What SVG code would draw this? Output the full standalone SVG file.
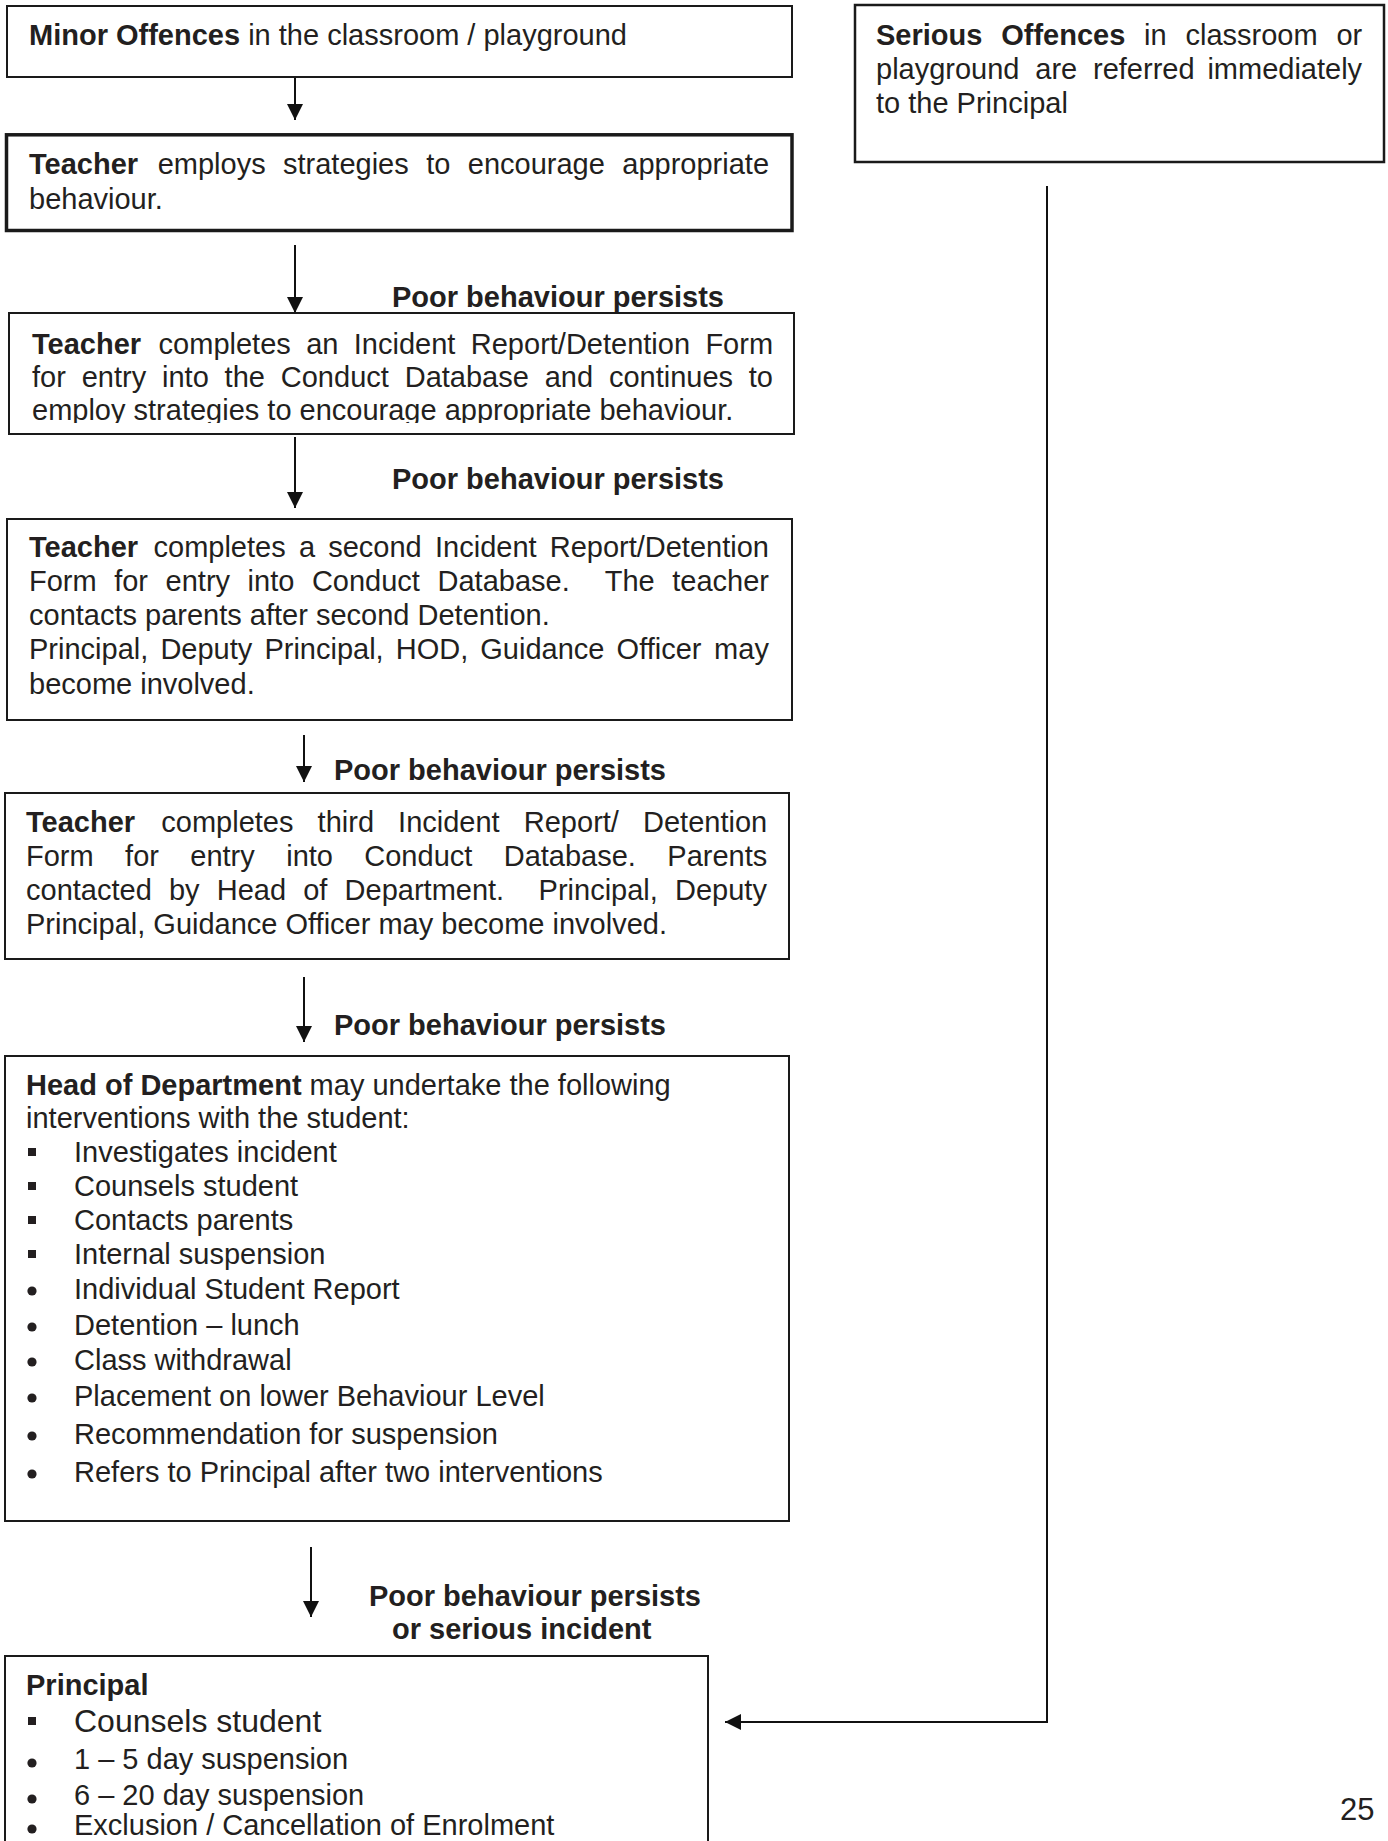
<svg xmlns="http://www.w3.org/2000/svg" width="1388" height="1841" viewBox="0 0 1388 1841">
<style>
text{font-family:"Liberation Sans",Arial,sans-serif;font-size:29px;fill:#231f20}
.b{font-weight:bold}
.box{fill:#fff;stroke:#1a1a1a;stroke-width:2}
.thick{stroke-width:3.5}
.conn{fill:none;stroke:#111;stroke-width:2}
.sq{fill:#231f20}
</style>
<defs>
<marker id="arr" markerUnits="userSpaceOnUse" markerWidth="16" markerHeight="16" refX="16" refY="8" orient="auto">
<path d="M0,0 L16,8 L0,16 z" fill="#111"/>
</marker>
<clipPath id="clip3"><rect x="9" y="313" width="785" height="110"/></clipPath>
</defs>
<rect width="1388" height="1841" fill="#fff"/>

<g id="connectors">
<line class="conn" x1="295" y1="77" x2="295" y2="120" marker-end="url(#arr)"/>
<line class="conn" x1="295" y1="245" x2="295" y2="313" marker-end="url(#arr)"/>
<line class="conn" x1="295" y1="437" x2="295" y2="508" marker-end="url(#arr)"/>
<line class="conn" x1="304" y1="735" x2="304" y2="782" marker-end="url(#arr)"/>
<line class="conn" x1="304" y1="977" x2="304" y2="1042" marker-end="url(#arr)"/>
<line class="conn" x1="311" y1="1547" x2="311" y2="1617" marker-end="url(#arr)"/>
<path class="conn" d="M1047,186 V1722 H725" marker-end="url(#arr)"/>
<text class="b" x="392" y="307">Poor behaviour persists</text>
<text class="b" x="392" y="489">Poor behaviour persists</text>
<text class="b" x="334" y="780">Poor behaviour persists</text>
<text class="b" x="334" y="1035">Poor behaviour persists</text>
<text class="b" x="369" y="1606">Poor behaviour persists</text>
<text class="b" x="392" y="1639">or serious incident</text>
</g>

<g id="minor">
<rect class="box" x="7" y="6" width="785" height="71"/>
<text x="29" y="45"><tspan class="b">Minor Offences</tspan> in the classroom / playground</text>
</g>

<g id="teacher1">
<rect class="box thick" x="6.5" y="134.8" width="785.5" height="95.7"/>
<text y="174"><tspan class="b" x="29">Teacher</tspan><tspan x="157.7">employs</tspan><tspan x="283">strategies</tspan><tspan x="426.2">to</tspan><tspan x="467.8">encourage</tspan><tspan x="622.3">appropriate</tspan></text>
<text x="29" y="209">behaviour.</text>
</g>

<g id="teacher2">
<rect class="box" x="9" y="313" width="785" height="121"/>
<g clip-path="url(#clip3)">
<text y="354"><tspan class="b" x="32">Teacher</tspan><tspan x="158.6">completes</tspan><tspan x="306.2">an</tspan><tspan x="353.8">Incident</tspan><tspan x="470.8">Report/Detention</tspan><tspan x="705.4">Form</tspan></text>
<text y="387"><tspan x="32">for</tspan><tspan x="81.7">entry</tspan><tspan x="162">into</tspan><tspan x="224.6">the</tspan><tspan x="280.8">Conduct</tspan><tspan x="404.7">Database</tspan><tspan x="544.7">and</tspan><tspan x="608.9">continues</tspan><tspan x="748.8">to</tspan></text>
<text x="32" y="420">employ strategies to encourage appropriate behaviour.</text>
</g>
</g>

<g id="teacher3">
<rect class="box" x="7" y="519" width="785" height="201"/>
<text y="557"><tspan class="b" x="29">Teacher</tspan><tspan x="153.5">completes</tspan><tspan x="298.9">a</tspan><tspan x="328.2">second</tspan><tspan x="435">Incident</tspan><tspan x="549.7">Report/Detention</tspan></text>
<text y="591"><tspan x="29">Form</tspan><tspan x="114.2">for</tspan><tspan x="165.6">entry</tspan><tspan x="247.6">into</tspan><tspan x="311.9">Conduct</tspan><tspan x="437.5">Database.</tspan><tspan x="604.7">The</tspan><tspan x="672.3">teacher</tspan></text>
<text x="29" y="625">contacts parents after second Detention.</text>
<text y="659"><tspan x="29">Principal,</tspan><tspan x="160.4">Deputy</tspan><tspan x="264.4">Principal,</tspan><tspan x="395.7">HOD,</tspan><tspan x="480.3">Guidance</tspan><tspan x="616.6">Officer</tspan><tspan x="714.1">may</tspan></text>
<text x="29" y="694">become involved.</text>
</g>

<g id="teacher4">
<rect class="box" x="5" y="793" width="784" height="166"/>
<text y="832"><tspan class="b" x="26">Teacher</tspan><tspan x="161.3">completes</tspan><tspan x="317.6">third</tspan><tspan x="398.1">Incident</tspan><tspan x="523.8">Report/</tspan><tspan x="643">Detention</tspan></text>
<text y="866"><tspan x="26">Form</tspan><tspan x="125.1">for</tspan><tspan x="190.3">entry</tspan><tspan x="286.2">into</tspan><tspan x="364.3">Conduct</tspan><tspan x="503.7">Database.</tspan><tspan x="667.3">Parents</tspan></text>
<text y="900"><tspan x="26">contacted</tspan><tspan x="168.9">by</tspan><tspan x="216.7">Head</tspan><tspan x="303.2">of</tspan><tspan x="344.6">Department.</tspan><tspan x="538.6">Principal,</tspan><tspan x="675">Deputy</tspan></text>
<text x="26" y="934">Principal, Guidance Officer may become involved.</text>
</g>

<g id="hod">
<rect class="box" x="5" y="1056" width="784" height="465"/>
<text x="26" y="1095"><tspan class="b">Head of Department</tspan> may undertake the following</text>
<text x="26" y="1128">interventions with the student:</text>
<rect class="sq" x="28" y="1148" width="8" height="8"/>
<rect class="sq" x="28" y="1182" width="8" height="8"/>
<rect class="sq" x="28" y="1216" width="8" height="8"/>
<rect class="sq" x="28" y="1250" width="8" height="8"/>
<circle class="sq" cx="32" cy="1291" r="4.6"/>
<circle class="sq" cx="32" cy="1327" r="4.6"/>
<circle class="sq" cx="32" cy="1362" r="4.6"/>
<circle class="sq" cx="32" cy="1398" r="4.6"/>
<circle class="sq" cx="32" cy="1436" r="4.6"/>
<circle class="sq" cx="32" cy="1474" r="4.6"/>
<text x="74" y="1162">Investigates incident</text>
<text x="74" y="1196">Counsels student</text>
<text x="74" y="1230">Contacts parents</text>
<text x="74" y="1264">Internal suspension</text>
<text x="74" y="1299">Individual Student Report</text>
<text x="74" y="1335">Detention – lunch</text>
<text x="74" y="1370">Class withdrawal</text>
<text x="74" y="1406">Placement on lower Behaviour Level</text>
<text x="74" y="1444">Recommendation for suspension</text>
<text x="74" y="1482">Refers to Principal after two interventions</text>
</g>

<g id="principal">
<rect class="box" x="5" y="1656" width="703" height="260"/>
<text class="b" x="26" y="1695">Principal</text>
<rect class="sq" x="28" y="1717" width="8" height="8"/>
<circle class="sq" cx="32" cy="1763" r="4.6"/>
<circle class="sq" cx="32" cy="1799" r="4.6"/>
<circle class="sq" cx="32" cy="1829" r="4.6"/>
<text x="74" y="1732" style="font-size:32px">Counsels student</text>
<text x="74" y="1769">1 – 5 day suspension</text>
<text x="74" y="1805">6 – 20 day suspension</text>
<text x="74" y="1835">Exclusion / Cancellation of Enrolment</text>
</g>

<g id="serious">
<rect class="box" x="855" y="5" width="529" height="157" style="stroke-width:2.5"/>
<text y="45"><tspan class="b" x="876">Serious</tspan><tspan class="b" x="1001.2">Offences</tspan><tspan x="1144.1">in</tspan><tspan x="1185.5">classroom</tspan><tspan x="1336.4">or</tspan></text>
<text y="79"><tspan x="876">playground</tspan><tspan x="1035.3">are</tspan><tspan x="1093">referred</tspan><tspan x="1207.4">immediately</tspan></text>
<text x="876" y="113">to the Principal</text>
</g>

<g id="page-number">
<text x="1340" y="1820" style="font-size:31px">25</text>
</g>
</svg>
